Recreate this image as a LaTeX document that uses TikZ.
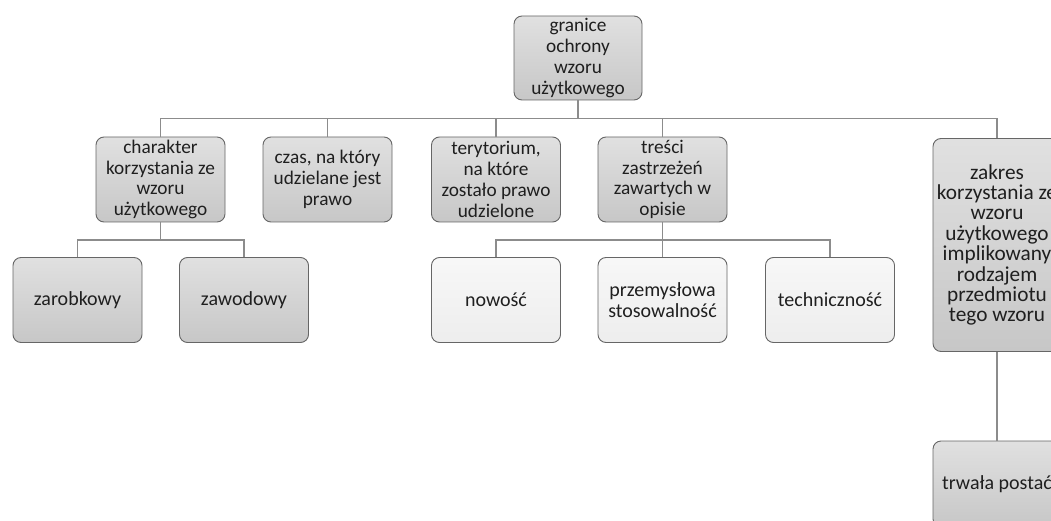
\documentclass[tikz,border=0pt]{standalone}
\usepackage{fontspec}
\setmainfont{Carlito}
\begin{document}
\begin{tikzpicture}[x=1pt,y=-1pt,
  box/.style={rectangle, rounded corners=8pt, draw=black!60, line width=0.9pt,
    top color=black!12, bottom color=black!22, align=center,
    font=\fontsize{19.3}{20.8}\selectfont, inner sep=0pt, text=black!88},
  lightbox/.style={box, top color=black!3, bottom color=black!7},
  big/.style={font=\fontsize{20}{21}\selectfont},
  wide/.style={minimum width=129pt, minimum height=85pt},
  tall/.style={minimum width=128pt, minimum height=213pt},
  link/.style={draw=black!45, line width=1.6pt}]
\useasboundingbox (0,0) rectangle (1051,521);
\clip (0,0) rectangle (1051,521);
\fill[white] (0,0) rectangle (1051,521);

% top of the tree
\node[box, minimum width=128pt, minimum height=84pt] (root) at (578,58)
  {granice\\ochrony\\wzoru\\użytkowego};

% first level
\node[box, wide] (char) at (160.5,179.5) {charakter\\korzystania ze\\wzoru\\użytkowego};
\node[box, wide] (czas) at (327.5,179.5) {czas, na który\\udzielane jest\\prawo};
\node[box, wide] (tery) at (496,179.5) {terytorium,\\na które\\zostało prawo\\udzielone};
\node[box, wide] (tresc) at (662.5,179.5) {treści\\zastrzeżeń\\zawartych w\\opisie};
\node[box, tall, font=\fontsize{21.3}{20.4}\selectfont] (zakres) at (997,245)
  {zakres\\korzystania ze\\wzoru\\użytkowego\\implikowany\\rodzajem\\przedmiotu\\tego wzoru};

% second level
\node[box, wide, big] (zarob) at (77.5,300) {zarobkowy};
\node[box, wide, big] (zawod) at (244,300) {zawodowy};
\node[lightbox, wide, big] (now) at (496,300) {nowość};
\node[lightbox, wide, big] (przem) at (662.5,300) {przemysłowa\\stosowalność};
\node[lightbox, wide, big] (tech) at (830,300) {techniczność};
\node[box, big, minimum width=128pt, minimum height=86pt] (trwala) at (997,484) {trwała postać};

% bus junctions
\coordinate (b0) at (578,118.5);
\coordinate (b1) at (160.5,240);
\coordinate (b2) at (662.5,240);

\path[link] (root.south) -- (b0) -| (char.north);
\path[link] (b0) -| (czas.north);
\path[link] (b0) -| (tery.north);
\path[link] (b0) -| (tresc.north);
\path[link] (b0) -| (zakres.north);

\path[link] (char.south) -- (b1) -| (zarob.north);
\path[link] (b1) -| (zawod.north);

\path[link] (tresc.south) -- (b2) -| (now.north);
\path[link] (b2) -| (przem.north);
\path[link] (b2) -| (tech.north);

\path[link] (zakres.south) -- (trwala.north);
\end{tikzpicture}
\end{document}
